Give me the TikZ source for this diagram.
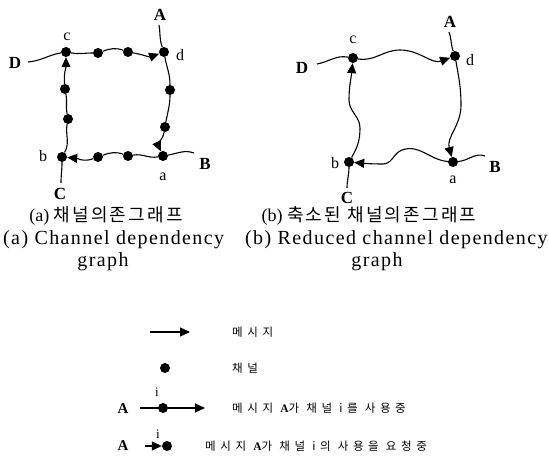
\documentclass[tikz,border=0pt]{standalone}
\usepackage{fontspec}
\setmainfont{Liberation Serif}
\newfontfamily\kr{Noto Sans CJK KR}
\newfontfamily\krc[LetterSpace=12]{Noto Sans CJK KR}
\newfontfamily\krs[LetterSpace=40]{Noto Sans CJK KR}
\newfontfamily\enls[LetterSpace=7]{Liberation Serif}
\usetikzlibrary{arrows.meta}
\begin{document}
\begin{tikzpicture}[x=1pt,y=-1pt,
  dot/.style={circle,fill=black,inner sep=0pt,minimum size=10pt},
  edge/.style={line width=1.1pt},
  arr/.style={edge,-{Triangle[length=10pt,width=9pt]}},
  biglbl/.style={font=\bfseries\fontsize{17}{17}\selectfont,inner sep=0pt},
  low/.style={font=\fontsize{16}{16}\selectfont,inner sep=0pt},
  krcap/.style={font=\fontsize{18}{18}\selectfont,inner sep=0pt},
  encap/.style={font=\enls\fontsize{20}{22}\selectfont,inner sep=0pt},
  leg/.style={font=\krs\fontsize{11.5}{11.5}\selectfont,inner sep=0pt,anchor=west},
  legA/.style={font=\bfseries\fontsize{15}{15}\selectfont,inner sep=0pt},
  legi/.style={font=\fontsize{13}{13}\selectfont,inner sep=0pt}
]
\useasboundingbox[fill=white] (0,0) rectangle (549,468);

% ---------- (a) channel dependency graph ----------
\node[dot] (c1) at (66,52) {};
\node[dot] (d1) at (164,52) {};
\node[dot] (a1) at (163,156) {};
\node[dot] (b1) at (62,157) {};
\node[dot] (t1) at (98,53) {};
\node[dot] (t2) at (128,52) {};
\node[dot] (r1) at (170,90) {};
\node[dot] (r2) at (165,127) {};
\node[dot] (m1) at (128,156) {};
\node[dot] (m2) at (98,157) {};
\node[dot] (l1) at (68,119) {};
\node[dot] (l2) at (65,89) {};

\draw[edge] (c1) to[out=-10,in=180] (t1);
\draw[edge] (t1) to[out=20,in=160] (t2);
\draw[arr] (t2) to[out=-10,in=-160] (d1);
\draw[edge] (d1) to[out=-80,in=90] (r1);
\draw[edge] (r1) to[out=-90,in=80] (r2);
\draw[arr] (r2) to[out=-100,in=115] (a1);
\draw[edge] (a1) to[out=-170,in=10] (m1);
\draw[edge] (m1) to[out=160,in=20] (m2);
\draw[arr] (m2) to[out=-160,in=-5] (b1);
\draw[edge] (b1) to[out=60,in=-100] (l1);
\draw[edge] (l1) to[out=100,in=-80] (l2);
\draw[arr] (l2) to[out=95,in=-90] (c1);

\node[biglbl] (A1) at (160,15) {A};
\node[biglbl] (D1) at (15,63) {D};
\node[biglbl] (B1) at (205,164) {B};
\node[biglbl] (C1) at (60,194) {C};
\coordinate (A1e) at (159,25);
\coordinate (D1e) at (28,62);
\coordinate (B1e) at (194,153);
\coordinate (C1e) at (61,183);
\draw[edge] (A1e) to[out=-80,in=110] (d1);
\draw[edge] (D1e) to[out=5,in=190] (c1);
\draw[edge] (a1) to[out=10,in=160] (B1e);
\draw[edge] (b1) to[out=-90,in=90] (C1e);

\node[low] at (67,37) {c};
\node[low] at (180,55) {d};
\node[low] at (43,156) {b};
\node[low] at (163,177) {a};

% ---------- (b) reduced channel dependency graph ----------
\node[dot] (c2) at (353,58) {};
\node[dot] (d2) at (455,56) {};
\node[dot] (a2) at (453,162) {};
\node[dot] (b2) at (349,162) {};

\draw[arr] (c2) to[out=-10,in=180] (400,50) to[out=0,in=-160] (d2);
\draw[arr] (d2) to[out=-80,in=90] (461,105) to[out=-90,in=105] (a2);
\draw[arr] (a2) to[out=175,in=20] (402,150) to[out=-160,in=0] (383,164) to[out=180,in=-5] (b2);
\draw[arr] (b2) to[out=60,in=-90] (360,128) to[out=90,in=-90] (349,100) to[out=90,in=-95] (c2);

\node[biglbl] (A2) at (450,22) {A};
\node[biglbl] (D2) at (302,68) {D};
\node[biglbl] (B2) at (495,167) {B};
\node[biglbl] (C2) at (347,198) {C};
\coordinate (A2e) at (449,32);
\coordinate (D2e) at (317,64);
\coordinate (B2e) at (485,156);
\coordinate (C2e) at (347,188);
\draw[edge] (A2e) to[out=-70,in=110] (d2);
\draw[edge] (D2e) to[out=10,in=170] (c2);
\draw[edge] (a2) to[out=5,in=160] (B2e);
\draw[edge] (b2) to[out=-90,in=90] (C2e);

\node[low] at (353,40) {c};
\node[low] at (470,60) {d};
\node[low] at (335,163) {b};
\node[low] at (453,180) {a};

% ---------- captions ----------
\node[krcap] at (106,216) {(a) {\krc 채널의존그래프}};
\node[krcap] at (369,216) {(b) {\krc 축소된 채널의존그래프}};
\node[encap,anchor=west] at (3,240) {(a) Channel dependency};
\node[encap] at (103,262) {graph};
\node[encap,anchor=west] at (245,240) {(b) Reduced channel dependency};
\node[encap] at (377,262) {graph};

% ---------- legend ----------
\coordinate (g1s) at (150,332);
\coordinate (g1e) at (190,332);
\draw[arr] (g1s) -- (g1e);
\node[leg] at (232,332) {메시지};

\node[dot] (g2) at (165,368) {};
\node[leg] at (232,368) {채널};

\node[legA] (g3A) at (123,409) {A};
\node[dot] (g3) at (163,408) {};
\node[legi] at (157,392) {i};
\coordinate (g3s) at (140,408);
\coordinate (g3e) at (205,408);
\draw[edge] (g3s) -- (g3);
\draw[arr] (g3) -- (g3e);
\node[leg] at (232,408) {메시지 {\rmfamily\bfseries A}가 채널 i를 사용중};

\node[legA] (g4A) at (123,446) {A};
\node[dot] (g4) at (167,446) {};
\node[legi] at (158,434) {i};
\coordinate (g4s) at (145,446);
\draw[arr] (g4s) -- (g4);
\node[leg] at (205,446) {메시지 {\rmfamily\bfseries A}가 채널 i의 사용을 요청중};
\end{tikzpicture}
\end{document}
